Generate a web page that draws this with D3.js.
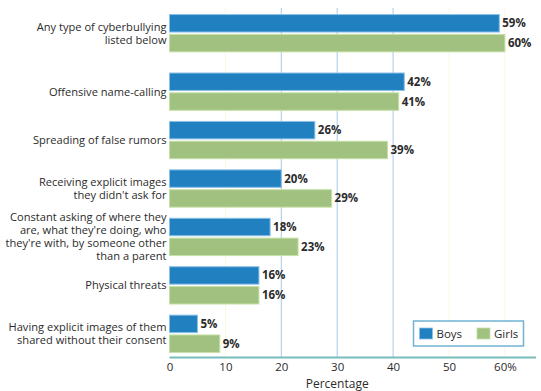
<!DOCTYPE html>
<html><head><meta charset="utf-8">
<script src="https://cdn.jsdelivr.net/npm/d3@7"></script>
<style>
body{margin:0;background:#fff;}
text{font-family:"Open Sans",sans-serif;}
</style></head>
<body><svg id="chart" width="541" height="391"></svg>
<script>
const categories = [
  ["Any type of cyberbullying","listed below"],
  ["Offensive name-calling"],
  ["Spreading of false rumors"],
  ["Receiving explicit images","they didn't ask for"],
  ["Constant asking of where they","are, what they're doing, who","they're with, by someone other","than a parent"],
  ["Physical threats"],
  ["Having explicit images of them","shared without their consent"]
];
const seriesNames = ["Boys","Girls"];
const boys  = [59, 42, 26, 20, 18, 16, 5];
const girls = [60, 41, 39, 29, 23, 16, 9];
const xTicks = [0,10,20,30,40,50,60];
const xTickLabels = ["0","10","20","30","40","50","60%"];

const colors = {Boys:"#2180c0", Girls:"#a0c17f"};
const strokes = {Boys:"#8cc0e6", Girls:"#c6e0a8"};

const svg = d3.select("#chart");
const x0 = 169.5, axisY = 357.5;
const x = d3.scaleLinear().domain([0, 65.5]).range([x0, x0 + 65.5*5.59]);

const idx = d3.range(categories.length);
const y = d3.scaleBand().domain(idx).range([24.5 - 5.5, axisY + 0.5]).paddingInner(0.23).paddingOuter(0.115);
const firstShift = 10;
const groupY = i => y(i) - (i === 0 ? firstShift : 0);
const sub = d3.scaleBand().domain(seriesNames).range([0, y.bandwidth()]).paddingInner(0.12);

// gridlines
const gridColor = t => (t>=20 && t<=40) ? "#a9c8e8" : "#fdf6e0";
svg.append("g").selectAll("line").data(xTicks.filter(t=>t>0)).join("line")
  .attr("x1", d=>x(d)).attr("x2", d=>x(d))
  .attr("y1", 8).attr("y2", axisY)
  .attr("stroke", gridColor).attr("stroke-width", 1);

// bars
const data = [];
idx.forEach(i => {
  data.push({i, s:"Boys", v:boys[i]});
  data.push({i, s:"Girls", v:girls[i]});
});
svg.append("g").selectAll("rect").data(data).join("rect")
  .attr("x", x(0))
  .attr("y", d => groupY(d.i) + sub(d.s))
  .attr("width", d => x(d.v) - x(0))
  .attr("height", sub.bandwidth())
  .attr("fill", d => colors[d.s])
  .attr("stroke", d => strokes[d.s]).attr("stroke-width", 1);

// value labels
svg.append("g").selectAll("text").data(data).join("text")
  .attr("x", d => x(d.v) + 3)
  .attr("y", d => groupY(d.i) + sub(d.s) + sub.bandwidth()/2)
  .attr("dy", "0.35em")
  .attr("font-size", 11.5).attr("font-weight", "bold").attr("fill", "#2b2b2b")
  .text(d => d.v + "%");

// category labels
const lh = 13;
const catG = svg.append("g");
idx.forEach(i => {
  const lines = categories[i];
  const cy = groupY(i) + y.bandwidth()/2;
  const t = catG.append("text").attr("text-anchor","end")
    .attr("font-size", 11.1).attr("fill", "#2b2b2b");
  lines.forEach((l, k) => {
    t.append("tspan").attr("x", 166.5)
      .attr("y", cy + (k - (lines.length-1)/2)*lh)
      .attr("dy", "0.35em").text(l);
  });
});

// axis
const axis = d3.axisBottom(x).tickValues(xTicks).tickFormat((d,i)=>xTickLabels[i]).tickSize(0).tickPadding(5);
const ag = svg.append("g").attr("transform", `translate(0,${axisY})`).call(axis);
ag.select(".domain").attr("stroke", "#79bcbc").attr("stroke-width", 2).attr("d", `M${x(0)},0H536`);
ag.selectAll("text").attr("font-size", 11.5).attr("fill", "#2b2b2b").attr("font-family", "Open Sans, sans-serif");

svg.append("text").attr("x", (x(0)+x(60))/2).attr("y", 388).attr("text-anchor","middle")
  .attr("font-size", 12).attr("fill", "#2b2b2b").text("Percentage");

// legend
const lg = svg.append("g").attr("transform", "translate(413.5,321)");
lg.append("rect").attr("width", 110).attr("height", 25).attr("fill", "#fff")
  .attr("stroke", "#72b3d3").attr("stroke-width", 1.5);
seriesNames.forEach((s, k) => {
  const g = lg.append("g").attr("transform", `translate(${6 + k*57.5},7)`);
  g.append("rect").attr("width", 13).attr("height", 11).attr("fill", colors[s]).attr("stroke", strokes[s]).attr("stroke-width", 0.8);
  g.append("text").attr("x", 17).attr("y", 5.5).attr("dy", "0.35em").attr("font-size", 11.5).attr("fill", "#2b2b2b").text(s);
});
</script></body></html>
